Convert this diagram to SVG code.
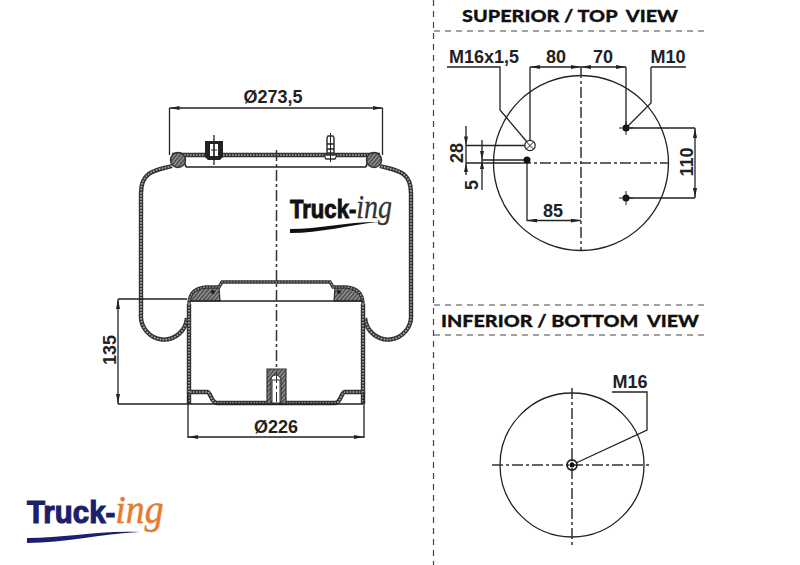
<svg xmlns="http://www.w3.org/2000/svg" xmlns:xlink="http://www.w3.org/1999/xlink" width="800" height="565" viewBox="0 0 800 565">
<style>
text{font-family:"Liberation Sans",Arial,sans-serif;font-weight:700;fill:#222;text-anchor:middle}
.dim{font-size:18px}
.head{font-family:Lato,"Open Sans",sans-serif;font-weight:900;font-size:17.5px;fill:#111;stroke:#111;stroke-width:.3;white-space:pre}
.ln{fill:none;stroke:#222;stroke-width:1.3}
.arr{marker-start:url(#a);marker-end:url(#a)}
.cl{fill:none;stroke:#333;stroke-width:1.5;stroke-dasharray:11 3 3 3}
.sep{fill:none;stroke:#444;stroke-width:1.2;stroke-dasharray:6 5}
.c{fill:none;stroke:#222;stroke-width:1.3}
.d{fill:#111}
.wo{fill:none;stroke:#333;stroke-width:4.4}
.wi{fill:none;stroke:#aaa;stroke-width:1.7;stroke-dasharray:1.6 1.4}
.h{fill:url(#hat);stroke:#333;stroke-width:1.2}
.lg{font-family:"Liberation Sans",sans-serif;font-weight:700;text-anchor:start}
.ing{font-family:"Liberation Serif",serif;font-style:italic;font-weight:400}
</style>
<defs>
<marker id="a" viewBox="0 0 10 4" markerWidth="10" markerHeight="4" refX="10" refY="2" orient="auto-start-reverse" markerUnits="userSpaceOnUse"><path d="M0 0L10 2L0 4Z" fill="#222"/></marker>
<pattern id="hat" width="3" height="3" patternUnits="userSpaceOnUse" patternTransform="rotate(40)"><rect width="3" height="3" fill="#999"/><rect width="1.5" height="3" fill="#444"/></pattern>
<path id="bag" d="M172 166C158 170 141 170 141 193V314A23 23.500 0 0 0 187 318M365 318A23 23.500 0 0 0 411 314V193C411 170 394 170 380 166"/>
<path id="wall" d="M189 304V404M363 304V404M190 392H207C211 392 211 403 217 403H335C341 403 341 392 345 392H362"/>
<path id="cap" d="M189 304C189 293 196 288 206 287H219L222 282H330L333 287H346C356 288 363 293 363 304"/>
<path id="plate" d="M172 155H380"/>
</defs>

<g id="separators">
<path class="sep" d="M433.500 0V565M434 31H708M434 305H708M434 335H708"/>
</g>

<g id="side-view">
<use xlink:href="#bag" href="#bag" class="wo"/>
<use xlink:href="#bag" href="#bag" class="wi"/>
<path class="h" d="M190 301C190 293 195 288 206 287H219L220 301ZM362 301C362 293 357 288 346 287H335L334 301Z"/>
<circle cx="213" cy="292" r="2" fill="#222"/><circle cx="339" cy="292" r="2" fill="#222"/>
<use xlink:href="#cap" href="#cap" class="wo" style="stroke-width:3.400"/>
<use xlink:href="#cap" href="#cap" class="wi" style="stroke-width:1.200"/>
<use xlink:href="#wall" href="#wall" class="wo"/>
<use xlink:href="#wall" href="#wall" class="wi"/>
<path class="ln" style="stroke-width:1.6" d="M190 301H363"/>
<use xlink:href="#plate" href="#plate" class="wo"/>
<use xlink:href="#plate" href="#plate" class="wi"/>
<path class="ln" style="stroke-width:1.6" d="M186 167H366M182 155L186 167M370 155L366 167"/>
<circle cx="178" cy="160" r="7.500" fill="url(#hat)" stroke="#333" stroke-width="1.500"/>
<circle cx="374" cy="160" r="7.500" fill="url(#hat)" stroke="#333" stroke-width="1.500"/>
<path fill="#222" d="M205 141H223V157L220 160H208L205 157Z"/>
<rect x="210" y="144" width="8" height="12" fill="#fff"/>
<path d="M214 135V165" class="ln"/>
<path d="M214 144V156M211 150H217" class="ln" style="stroke-width:1"/>
<path fill="#fff" stroke="#333" stroke-width="1.500" d="M327 138L328 136H333L334 138V153H327Z"/>
<path fill="#fff" stroke="#333" stroke-width="1.300" d="M324 155H337L335 159H326Z"/>
<path d="M327 144H334M327 149H334" class="ln"/>
<path d="M330.500 133V162" class="ln" style="stroke-width:1"/>
<path class="h" d="M267 369H286V404H281V380C281 377 278 375 276 375C273 375 271 377 271 380V404H267Z"/>
<rect x="272" y="380" width="8" height="23" fill="#fff" stroke="#333" stroke-width="1"/>
<path class="cl" d="M276.500 150V369"/>
<path class="cl" style="stroke-width:1" d="M276.500 372V402"/>
</g>

<g id="connectors">
<path class="ln" d="M169.500 108V155M382.500 108V155M118 299H187M118 404H363M188 392V438M364 392V438M530 67V145M626 67V128M466 145.500H525M466 163H520M482 160H524M527 160V221M626 128H695M626 198H695M447 67H500V110L527 142M651 67H686M651 67V103L626 128M612 392H647V430L576 463"/>
<path class="ln arr" d="M169.500 108H382.500"/>
<path class="ln arr" d="M118 299V404"/>
<path class="ln arr" d="M188 437H364"/>
<path class="ln arr" d="M530 67H581"/>
<path class="ln arr" d="M581 67H626"/>
<path class="ln arr" d="M527 220.500H581"/>
<path class="ln arr" d="M695 128V198"/>
<path class="ln" d="M466 126V175M482 140V190"/>
<path d="M466 145.500l-2-9h4zM466 163l-2 9h4zM482 160l-2 9h4zM482 160l-2-9h4z" fill="#222"/>
</g>

<g id="top-view">
<circle class="c" cx="581" cy="163" r="87.500"/>
<path class="cl" d="M581 67V250M520 163H668"/>
<circle cx="530" cy="145.500" r="5.200" fill="#fff" stroke="#222" stroke-width="1.200"/>
<path class="ln" style="stroke-width:1" d="M526.500 142L533.500 149M533.500 142L526.500 149"/>
<circle class="d" cx="527" cy="160" r="3.500"/>
<circle class="d" cx="626" cy="128" r="3.500"/>
<circle class="d" cx="626" cy="198" r="3.500"/>
<path class="ln" d="M626 121V135M619 128H633M626 191V205M619 198H633" style="stroke-width:1"/>
</g>

<g id="bottom-view">
<circle class="c" cx="572" cy="465" r="72"/>
<path class="cl" d="M572 388V545M492 465H650"/>
<circle cx="572" cy="465" r="5" fill="none" stroke="#222" stroke-width="1.800"/>
<circle cx="572" cy="465" r="2.500" fill="#111"/>
</g>

<g id="labels">
<text class="head" x="570" y="22" textLength="216" lengthAdjust="spacingAndGlyphs">SUPERIOR / TOP  VIEW</text>
<text class="head" x="570" y="327" textLength="258" lengthAdjust="spacingAndGlyphs">INFERIOR / BOTTOM  VIEW</text>
<text class="dim" x="273" y="102.500">Ø273,5</text>
<text class="dim" x="276" y="433">Ø226</text>
<text class="dim" transform="translate(116 350) rotate(-90)">135</text>
<text class="dim" x="484" y="63">M16x1,5</text>
<text class="dim" x="556" y="63">80</text>
<text class="dim" x="603" y="63">70</text>
<text class="dim" x="668" y="63">M10</text>
<text class="dim" x="553" y="217">85</text>
<text class="dim" transform="translate(463 153) rotate(-90)">28</text>
<text class="dim" transform="translate(478 185) rotate(-90)">5</text>
<text class="dim" transform="translate(693 162) rotate(-90)">110</text>
<text class="dim" x="630" y="388">M16</text>
</g>

<g id="logo-center">
<text class="lg" transform="translate(290 218) scale(.85 1)" style="fill:#111;stroke:#111;stroke-width:1;font-size:26px">Truck-<tspan class="ing" style="fill:#333;stroke:#333;stroke-width:.3;font-size:33px">ing</tspan></text>
<path fill="#111" d="M290 229C320 229 345 222 378 222C350 225 320 233 290 233Z"/>
</g>

<g id="logo-corner">
<text class="lg" transform="translate(27 523) scale(.92 1)" style="fill:#1a1f6e;stroke:#1a1f6e;stroke-width:1.200;font-size:32px">Truck-<tspan class="ing" style="fill:#e87a2d;stroke:#e87a2d;stroke-width:.5;font-size:41px">ing</tspan></text>
<path fill="#1a1f6e" d="M27 538C65 538 100 530 140 532C100 534 65 543 27 543Z"/>
</g>
</svg>
